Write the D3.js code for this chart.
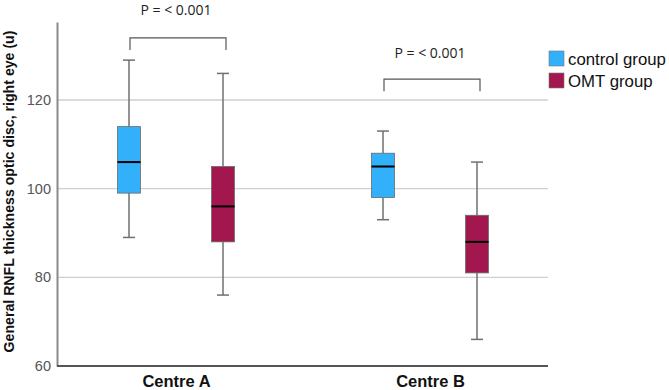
<!DOCTYPE html>
<html><head><meta charset="utf-8">
<script src="https://cdn.jsdelivr.net/npm/d3@7"></script>
<style>body{margin:0;background:#fff}svg{display:block}</style>
</head><body>
<svg id="c" width="669" height="390"></svg>
<script>
const centres = ["Centre A", "Centre B"];
const groups = ["control group", "OMT group"];
const colors = ["#33b0fa", "#a3174f"];
// [min, q1, median, q3, max] per centre
const controlStats = [[89, 99, 106, 114, 129], [93, 98, 105, 108, 113]];
const omtStats = [[76, 88, 96, 105, 126], [66, 81, 88, 94, 106]];
const yTicks = [60, 80, 100, 120];
const pLabels = ["P = < 0.001", "P = < 0.001"];
const pBracketY = [134.0, 124.7];
const pLabelY = [139.1, 129.5];
const yTitle = "General RNFL thickness optic disc, right eye (u)";

(function () {
const svg = d3.select("#c");
const mLeft = 57, mRight = 548, mTop = 22, mBottom = 366;
const y = d3.scaleLinear().domain([60, 137.6]).range([mBottom, mTop]);
const x = d3.scalePoint().domain(centres).range([176, 430]);
const off = d3.scalePoint().domain(groups).range([-47, 47]);
const bw = 23, cap = 10;

// gridlines
svg.append("g").selectAll("line").data(yTicks.filter(t => t > 60)).join("line")
  .attr("x1", mLeft).attr("x2", mRight).attr("y1", d => y(d)).attr("y2", d => y(d))
  .attr("stroke", "#cfcfcf").attr("stroke-width", 1.3);

// axes
const ya = svg.append("g").attr("transform", `translate(${mLeft},0)`)
  .call(d3.axisLeft(y).tickValues(yTicks).tickSize(0).tickPadding(6));
ya.select(".domain").attr("stroke", "#8a8a8a").attr("stroke-width", 2);
ya.selectAll("text").attr("font-family", "Liberation Sans, Arial").attr("font-size", 14.5).attr("fill", "#555");

const xa = svg.append("g").attr("transform", `translate(0,${mBottom})`)
  .call(d3.axisBottom(x).tickSize(0).tickPadding(9));
xa.select(".domain").attr("d", `M${mLeft},0H${mRight}`).attr("stroke", "#555").attr("stroke-width", 2);
xa.selectAll("text").attr("font-family", "Liberation Sans, Arial").attr("font-size", 16.5).attr("font-weight", "bold").attr("fill", "#111");

// boxes
const series = [controlStats, omtStats];
series.forEach((stats, gi) => {
  const g = svg.append("g");
  stats.forEach((s, ci) => {
    const cx = x(centres[ci]) + off(groups[gi]);
    const [mn, q1, md, q3, mx] = s;
    g.append("line").attr("x1", cx).attr("x2", cx).attr("y1", y(mx)).attr("y2", y(q3)).attr("stroke", "#707070").attr("stroke-width", 1.5);
    g.append("line").attr("x1", cx).attr("x2", cx).attr("y1", y(q1)).attr("y2", y(mn)).attr("stroke", "#707070").attr("stroke-width", 1.5);
    [mn, mx].forEach(v => g.append("line").attr("x1", cx - cap / 2 - 1).attr("x2", cx + cap / 2 + 1).attr("y1", y(v)).attr("y2", y(v)).attr("stroke", "#707070").attr("stroke-width", 1.5));
    g.append("rect").attr("x", cx - bw / 2).attr("width", bw).attr("y", y(q3)).attr("height", y(q1) - y(q3))
      .attr("fill", colors[gi]).attr("stroke", "#6a6a6a").attr("stroke-width", 0.8);
    g.append("line").attr("x1", cx - bw / 2).attr("x2", cx + bw / 2).attr("y1", y(md)).attr("y2", y(md)).attr("stroke", "#000").attr("stroke-width", 2);
  });
});

// brackets
centres.forEach((c, ci) => {
  const x1 = x(c) + off(groups[0]) + 1, x2 = x(c) + off(groups[1]) + 3;
  const by = y(pBracketY[ci]);
  svg.append("path").attr("d", `M${x1},${by + 12}V${by}H${x2}V${by + 12}`)
    .attr("fill", "none").attr("stroke", "#555").attr("stroke-width", 1.2);
  svg.append("text").attr("x", (x1 + x2) / 2 - 2).attr("y", y(pLabelY[ci]))
    .attr("text-anchor", "middle").attr("font-family", "Open Sans, Liberation Sans").attr("font-size", 14).attr("fill", "#222")
    .text(pLabels[ci]);
});

// legend
groups.forEach((gname, i) => {
  const ly = 51 + i * 22;
  svg.append("rect").attr("x", 549).attr("y", ly).attr("width", 15).attr("height", 15)
    .attr("fill", colors[i]).attr("stroke", "#777").attr("stroke-width", 0.6);
  svg.append("text").attr("x", 568).attr("y", ly + 14).attr("font-family", "Liberation Sans, Arial")
    .attr("font-size", 16.8).attr("fill", "#111").text(gname);
});

// y title
svg.append("text").attr("transform", `translate(14,191.5) rotate(-90)`).attr("text-anchor", "middle")
  .attr("font-family", "Liberation Sans, Arial").attr("font-size", 14.15).attr("font-weight", "bold").attr("fill", "#111")
  .text(yTitle);
})();
</script>
</body></html>
